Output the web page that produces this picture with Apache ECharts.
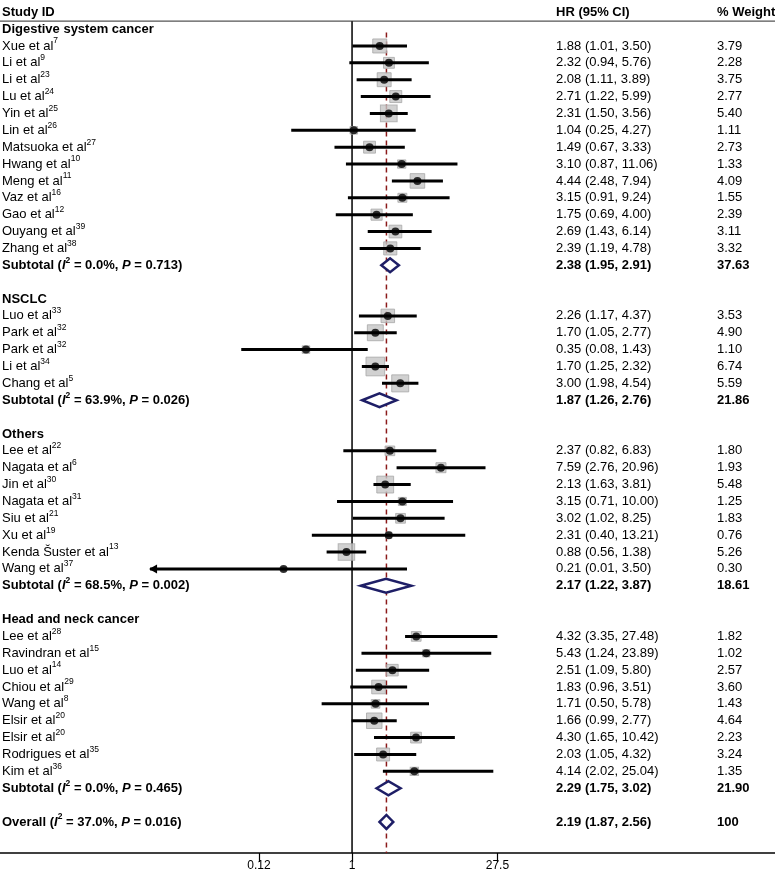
<!DOCTYPE html>
<html><head><meta charset="utf-8">
<script src="https://cdn.jsdelivr.net/npm/echarts@6/dist/echarts.min.js"></script>
<style>html,body{margin:0;padding:0;background:#fff}#chart{width:775px;height:880px}</style>
</head><body><div id="chart"></div>
<script>
const groupNames = ['Digestive system cancer', 'NSCLC', 'Others', 'Head and neck cancer'];
const studyNames = ['Xue et al', 'Li et al', 'Li et al', 'Lu et al', 'Yin et al', 'Lin et al', 'Matsuoka et al', 'Hwang et al', 'Meng et al', 'Vaz et al', 'Gao et al', 'Ouyang et al', 'Zhang et al',
  'Luo et al', 'Park et al', 'Park et al', 'Li et al', 'Chang et al',
  'Lee et al', 'Nagata et al', 'Jin et al', 'Nagata et al', 'Siu et al', 'Xu et al', 'Kenda Šuster et al', 'Wang et al',
  'Lee et al', 'Ravindran et al', 'Luo et al', 'Chiou et al', 'Wang et al', 'Elsir et al', 'Elsir et al', 'Rodrigues et al', 'Kim et al'];
const studyRefs = ['7', '9', '23', '24', '25', '26', '27', '10', '11', '16', '12', '39', '38',
  '33', '32', '32', '34', '5',
  '22', '6', '30', '31', '21', '19', '13', '37',
  '28', '15', '14', '29', '8', '20', '20', '35', '36'];
const studyGroup = [0,0,0,0,0,0,0,0,0,0,0,0,0, 1,1,1,1,1, 2,2,2,2,2,2,2,2, 3,3,3,3,3,3,3,3,3];
const studyHR = [1.88, 2.32, 2.08, 2.71, 2.31, 1.04, 1.49, 3.10, 4.44, 3.15, 1.75, 2.69, 2.39,
  2.26, 1.70, 0.35, 1.70, 3.00,
  2.37, 7.59, 2.13, 3.15, 3.02, 2.31, 0.88, 0.21,
  4.32, 5.43, 2.51, 1.83, 1.71, 1.66, 4.30, 2.03, 4.14];
const studyLo = [1.01, 0.94, 1.11, 1.22, 1.50, 0.25, 0.67, 0.87, 2.48, 0.91, 0.69, 1.43, 1.19,
  1.17, 1.05, 0.08, 1.25, 1.98,
  0.82, 2.76, 1.63, 0.71, 1.02, 0.40, 0.56, 0.01,
  3.35, 1.24, 1.09, 0.96, 0.50, 0.99, 1.65, 1.05, 2.02];
const studyHi = [3.50, 5.76, 3.89, 5.99, 3.56, 4.27, 3.33, 11.06, 7.94, 9.24, 4.00, 6.14, 4.78,
  4.37, 2.77, 1.43, 2.32, 4.54,
  6.83, 20.96, 3.81, 10.00, 8.25, 13.21, 1.38, 3.50,
  27.48, 23.89, 5.80, 3.51, 5.78, 2.77, 10.42, 4.32, 25.04];
const studyWeight = [3.79, 2.28, 3.75, 2.77, 5.40, 1.11, 2.73, 1.33, 4.09, 1.55, 2.39, 3.11, 3.32,
  3.53, 4.90, 1.10, 6.74, 5.59,
  1.80, 1.93, 5.48, 1.25, 1.83, 0.76, 5.26, 0.30,
  1.82, 1.02, 2.57, 3.60, 1.43, 4.64, 2.23, 3.24, 1.35];
const subI2 = ['0.0', '63.9', '68.5', '0.0'];
const subP = ['0.713', '0.026', '0.002', '0.465'];
const subHR = [2.38, 1.87, 2.17, 2.29];
const subLo = [1.95, 1.26, 1.22, 1.75];
const subHi = [2.91, 2.76, 3.87, 3.02];
const subWeight = ['37.63', '21.86', '18.61', '21.90'];
const overallI2 = '37.0';
const overallP = '0.016';
const overallHR = 2.19;
const overallLo = 1.87;
const overallHi = 2.56;
const overallWeight = '100';
const tickValues = [0.12, 1, 27.5];
const tickLabels = ['0.12', '1', '27.5'];
const headers = ['Study ID', 'HR (95% CI)', '% Weight'];

const FONT = 'Liberation Sans, Arial, Helvetica, sans-serif';
const FS = 13;
const X_MIN = 0.000327, X_MAX = 15400;
const COL_HR = 556, COL_W = 717, COL_L = 2;

// build row layout
const rows = [];
const studyRow = [];
let r = 0;
groupNames.forEach((g, gi) => {
  rows.push({ kind: 'group', row: r++, g: gi });
  studyNames.forEach((n, i) => {
    if (studyGroup[i] !== gi) return;
    studyRow[i] = r;
    rows.push({ kind: 'study', row: r++, i: i });
  });
  rows.push({ kind: 'sub', row: r++, g: gi });
  r++;
});
const overallRow = r;
rows.push({ kind: 'overall', row: r });
const subRow = rows.filter(x => x.kind === 'sub').map(x => x.row);
const Y_MIN = -1.725;
const Y_MAX = overallRow + 1.84;

const f2 = v => v.toFixed(2);
const ciText = (h, l, u) => `${f2(h)} (${f2(l)}, ${f2(u)})`;

const rich = {
  n: { fontSize: FS, fontFamily: FONT, fill: '#000', lineHeight: 19 },
  s: { fontSize: 8.5, fontFamily: FONT, fill: '#000', verticalAlign: 'top', lineHeight: 10 },
  b: { fontSize: FS, fontFamily: FONT, fill: '#000', fontWeight: 'bold', lineHeight: 19 },
  bi: { fontSize: FS, fontFamily: FONT, fill: '#000', fontWeight: 'bold', fontStyle: 'italic', lineHeight: 19 },
  bs: { fontSize: 8.5, fontFamily: FONT, fill: '#000', fontWeight: 'bold', verticalAlign: 'top', lineHeight: 10 }
};

function rowTexts(item) {
  if (item.kind === 'header') return [`{b|${headers[0]}}`, `{b|${headers[1]}}`, `{b|${headers[2]}}`];
  if (item.kind === 'group') return [`{b|${groupNames[item.g]}}`, '', ''];
  if (item.kind === 'study') {
    const i = item.i;
    return [`{n|${studyNames[i]}}{s|${studyRefs[i]}}`, `{n|${ciText(studyHR[i], studyLo[i], studyHi[i])}}`, `{n|${f2(studyWeight[i])}}`];
  }
  if (item.kind === 'sub') {
    const g = item.g;
    return [`{b|Subtotal (}{bi|I}{bs|2}{b| = ${subI2[g]}%, }{bi|P}{b| = ${subP[g]})}`,
      `{b|${ciText(subHR[g], subLo[g], subHi[g])}}`, `{b|${subWeight[g]}}`];
  }
  return [`{b|Overall (}{bi|I}{bs|2}{b| = ${overallI2}%, }{bi|P}{b| = ${overallP})}`,
    `{b|${ciText(overallHR, overallLo, overallHi)}}`, `{b|${overallWeight}}`];
}
const textItems = [{ kind: 'header', row: -1 }].concat(rows);

const ciData = studyHR.map((h, i) => [studyLo[i], studyHi[i], studyRow[i]]);
const diamondData = subHR.map((h, g) => [subLo[g], h, subHi[g], subRow[g]]).concat([[overallLo, overallHR, overallHi, overallRow]]);

const chart = echarts.init(document.getElementById('chart'));
chart.setOption({
  animation: false,
  backgroundColor: '#fff',
  grid: { left: 0, right: 0, top: 0, bottom: 27 },
  xAxis: {
    type: 'log', logBase: 10, min: X_MIN, max: X_MAX,
    axisLine: { show: true, onZero: false, lineStyle: { color: '#000', width: 1.5 } },
    axisTick: { show: true, customValues: tickValues, length: 9, lineStyle: { color: '#000', width: 1.2 } },
    axisLabel: {
      show: true, customValues: tickValues, margin: 7, color: '#000', fontSize: 12, fontFamily: FONT,
      formatter: v => { let best = 0; tickValues.forEach((t, k) => { if (Math.abs(Math.log(t) - Math.log(v)) < Math.abs(Math.log(tickValues[best]) - Math.log(v))) best = k; }); return tickLabels[best]; }
    },
    splitLine: { show: false }, minorTick: { show: false }
  },
  yAxis: { type: 'value', inverse: true, min: Y_MIN, max: Y_MAX, show: false, splitLine: { show: false } },
  series: [
    { type: 'line', data: [[X_MIN, -0.47], [X_MAX, -0.47]], symbol: 'none', lineStyle: { color: '#555', width: 1.2 }, z: 1, silent: true },
    { type: 'line', data: [[1, -0.47], [1, Y_MAX]], symbol: 'none', lineStyle: { color: '#000', width: 1.5 }, z: 1, silent: true },
    { type: 'line', data: [[overallHR, 0.2], [overallHR, Y_MAX]], symbol: 'none', lineStyle: { color: '#8b1a1a', width: 1.5, type: [5, 4] }, z: 1, silent: true },
    {
      type: 'scatter', symbol: 'rect', z: 2,
      data: studyHR.map((h, i) => [h, studyRow[i], studyWeight[i]]),
      symbolSize: v => Math.min(19, 7.2 * Math.sqrt(v[2])),
      itemStyle: { color: '#c6c6c6', borderColor: '#a8a8a8', borderWidth: 1 }
    },
    {
      type: 'custom', z: 3, data: ciData,
      renderItem: (params, api) => {
        const p1 = api.coord([api.value(0), api.value(2)]);
        const p2 = api.coord([api.value(1), api.value(2)]);
        const children = [{ type: 'line', shape: { x1: p1[0], y1: p1[1], x2: p2[0], y2: p2[1] }, style: { stroke: '#000', lineWidth: 3 } }];
        if (api.value(0) < tickValues[0] / 10) {
          children.push({ type: 'polygon', shape: { points: [[p1[0] - 1, p1[1]], [p1[0] + 7, p1[1] - 4.5], [p1[0] + 7, p1[1] + 4.5]] }, style: { fill: '#000' } });
        }
        return { type: 'group', children };
      }
    },
    {
      type: 'scatter', symbol: 'circle', symbolSize: 8, z: 4,
      data: studyHR.map((h, i) => [h, studyRow[i]]),
      itemStyle: { color: '#000' }
    },
    {
      type: 'custom', z: 5, data: diamondData,
      renderItem: (params, api) => {
        const y = api.value(3);
        const a = api.coord([api.value(0), y]);
        const c = api.coord([api.value(1), y]);
        const b = api.coord([api.value(2), y]);
        return { type: 'polygon', shape: { points: [[a[0], a[1]], [c[0], c[1] - 7], [b[0], b[1]], [c[0], c[1] + 7]] },
          style: { fill: '#fff', stroke: '#1e1e66', lineWidth: 2.5 } };
      }
    },
    {
      type: 'custom', z: 6, data: textItems.map(t => [1, t.row]),
      renderItem: (params, api) => {
        const item = textItems[params.dataIndex];
        const y = api.coord([1, item.row])[1];
        const t = rowTexts(item);
        const xs = [COL_L, COL_HR, COL_W];
        const children = [];
        t.forEach((s, k) => {
          if (!s) return;
          children.push({ type: 'text', x: xs[k], y: y, style: { text: s, rich: rich, fontSize: FS, fontFamily: FONT, fill: '#000', align: 'left', verticalAlign: 'middle' } });
        });
        return { type: 'group', children };
      }
    }
  ]
});
</script>
</body></html>
